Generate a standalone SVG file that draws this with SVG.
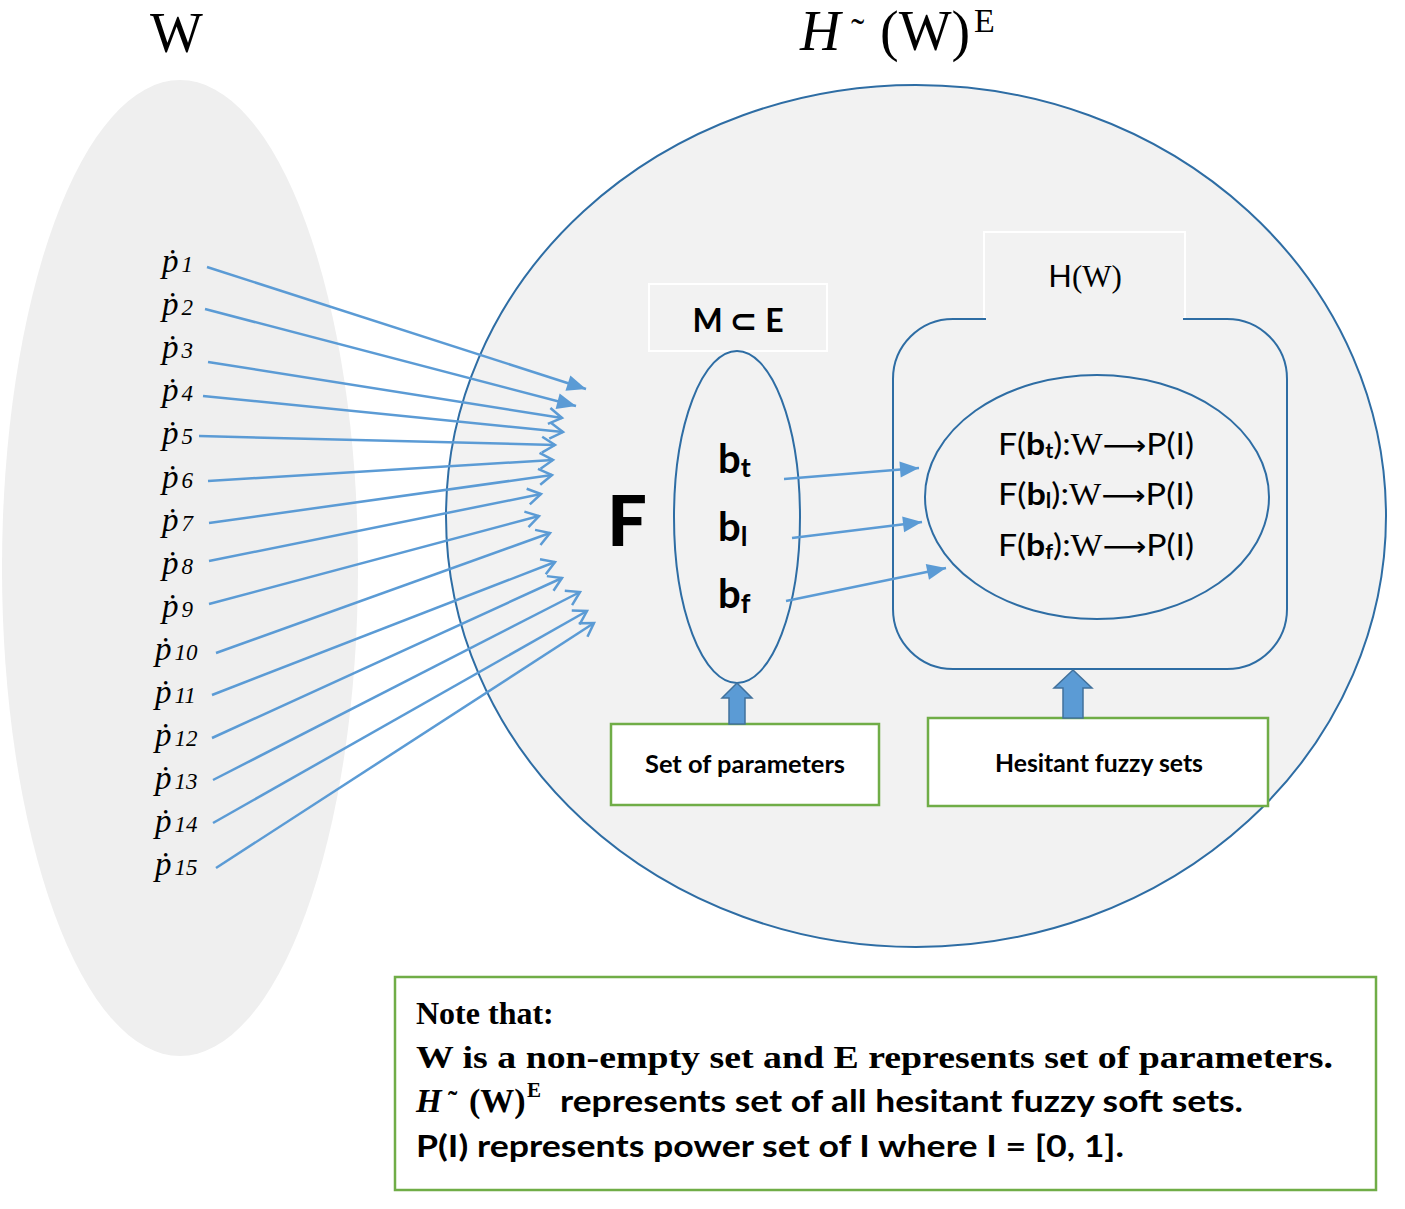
<svg xmlns="http://www.w3.org/2000/svg" width="1405" height="1209" viewBox="0 0 1405 1209">
<style>
.serif{font-family:"Liberation Serif","Times New Roman",serif;fill:#000}
.sans{font-family:Lato,"Open Sans","Liberation Sans",sans-serif;fill:#000}
.p{font-family:"Liberation Serif","DejaVu Serif",serif;font-style:italic;font-size:33px;fill:#000}
.sub{font-size:23px}
.conn{stroke:#5b9bd5;stroke-width:2.5;fill:none}
.blue{stroke:#2e6da4;stroke-width:2;fill:#f2f2f2}
.lbl{fill:#f2f2f2;stroke:#ffffff;stroke-width:2}
.green{fill:#ffffff;stroke:#70ad47;stroke-width:2.5}
.blk{fill:#5b9bd5;stroke:#41719c;stroke-width:1.5}
</style>
<defs>
<marker id="open" viewBox="-16 -10 20 20" refX="0" refY="0" markerWidth="20" markerHeight="20" orient="auto" markerUnits="userSpaceOnUse">
<path d="M-13,-8 L0,0 L-13,8" fill="none" stroke="#5b9bd5" stroke-width="2.5"/>
</marker>
<marker id="fill" viewBox="-20 -10 22 20" refX="0" refY="0" markerWidth="22" markerHeight="20" orient="auto" markerUnits="userSpaceOnUse">
<path d="M-19,-8 L0,0 L-19,8 Z" fill="#5b9bd5"/>
</marker>
</defs>
<rect width="1405" height="1209" fill="#ffffff"/>

<g id="W-set">
<ellipse cx="180" cy="568" rx="178" ry="488" fill="#efefef"/>
<text class="serif" x="150" y="52" font-size="56">W</text>
</g>

<g id="soft-set">
<ellipse class="blue" cx="916" cy="516" rx="470" ry="431"/>
<text class="serif" x="800" y="50" font-size="56" font-style="italic">H</text>
<text class="serif" x="851" y="46" font-size="40">˜</text>
<text class="serif" x="880" y="50" font-size="56">(W)</text>
<text class="serif" x="974" y="32" font-size="34">E</text>
</g>

<g id="labels">
<text class="p" x="162" y="272">ṗ<tspan class="sub" dx="3">1</tspan></text>
<text class="p" x="162" y="315">ṗ<tspan class="sub" dx="3">2</tspan></text>
<text class="p" x="162" y="358">ṗ<tspan class="sub" dx="3">3</tspan></text>
<text class="p" x="162" y="401">ṗ<tspan class="sub" dx="3">4</tspan></text>
<text class="p" x="162" y="444">ṗ<tspan class="sub" dx="3">5</tspan></text>
<text class="p" x="162" y="488">ṗ<tspan class="sub" dx="3">6</tspan></text>
<text class="p" x="162" y="531">ṗ<tspan class="sub" dx="3">7</tspan></text>
<text class="p" x="162" y="574">ṗ<tspan class="sub" dx="3">8</tspan></text>
<text class="p" x="162" y="617">ṗ<tspan class="sub" dx="3">9</tspan></text>
<text class="p" x="155" y="660">ṗ<tspan class="sub" dx="3">10</tspan></text>
<text class="p" x="155" y="703">ṗ<tspan class="sub" dx="3">11</tspan></text>
<text class="p" x="155" y="746">ṗ<tspan class="sub" dx="3">12</tspan></text>
<text class="p" x="155" y="789">ṗ<tspan class="sub" dx="3">13</tspan></text>
<text class="p" x="155" y="832">ṗ<tspan class="sub" dx="3">14</tspan></text>
<text class="p" x="155" y="875">ṗ<tspan class="sub" dx="3">15</tspan></text>
</g>

<g id="F-label">
<text class="sans" x="627" y="546" font-size="70" font-weight="900" text-anchor="middle">F</text>
</g>

<g id="M-box">
<rect class="lbl" x="649" y="284" width="178" height="67"/>
<text class="sans" x="738" y="332" font-size="32" font-weight="bold" text-anchor="middle">M ⊂ E</text>
</g>

<g id="M-set">
<ellipse class="blue" cx="737" cy="517" rx="63" ry="166"/>
<text class="sans" x="718" y="473" font-size="40" font-weight="bold">b<tspan font-size="27" dy="4">t</tspan></text>
<text class="sans" x="718" y="541" font-size="40" font-weight="bold">b<tspan font-size="27" dy="5">l</tspan></text>
<text class="sans" x="718" y="608" font-size="40" font-weight="bold">b<tspan font-size="27" dy="5">f</tspan></text>
</g>

<g id="HW-box">
<rect class="lbl" x="984" y="232" width="201" height="86"/>
<rect class="blue" x="893" y="319" width="394" height="350" rx="60" ry="60"/>
<rect x="986" y="312" width="197" height="8" fill="#f2f2f2"/>
<text x="1085" y="287" font-size="31" text-anchor="middle"><tspan class="sans">H</tspan><tspan class="serif">(W)</tspan></text>
</g>

<g id="H-set">
<ellipse class="blue" cx="1097" cy="497" rx="172" ry="122"/>
<text x="998" y="455" font-size="31" textLength="196" lengthAdjust="spacingAndGlyphs"><tspan class="sans">F(</tspan><tspan class="sans" font-weight="bold">b</tspan><tspan class="sans" font-weight="bold" font-size="20" dy="3">t</tspan><tspan class="sans" dy="-3">):</tspan><tspan class="serif">W</tspan><tspan font-family="DejaVu Sans,sans-serif" font-size="28">⟶</tspan><tspan class="sans">P(I)</tspan></text>
<text x="998" y="505" font-size="31" textLength="196" lengthAdjust="spacingAndGlyphs"><tspan class="sans">F(</tspan><tspan class="sans" font-weight="bold">b</tspan><tspan class="sans" font-weight="bold" font-size="20" dy="3">l</tspan><tspan class="sans" dy="-3">):</tspan><tspan class="serif">W</tspan><tspan font-family="DejaVu Sans,sans-serif" font-size="28">⟶</tspan><tspan class="sans">P(I)</tspan></text>
<text x="998" y="556" font-size="31" textLength="196" lengthAdjust="spacingAndGlyphs"><tspan class="sans">F(</tspan><tspan class="sans" font-weight="bold">b</tspan><tspan class="sans" font-weight="bold" font-size="20" dy="3">f</tspan><tspan class="sans" dy="-3">):</tspan><tspan class="serif">W</tspan><tspan font-family="DejaVu Sans,sans-serif" font-size="28">⟶</tspan><tspan class="sans">P(I)</tspan></text>
</g>

<g id="params-box">
<rect class="green" x="611" y="724" width="268" height="81"/>
<text class="sans" x="645" y="773" font-size="24" font-weight="bold" textLength="200" lengthAdjust="spacingAndGlyphs">Set of parameters</text>
</g>

<g id="hesitant-box">
<rect class="green" x="928" y="718" width="340" height="88"/>
<text class="sans" x="995" y="772" font-size="24" font-weight="bold" textLength="208" lengthAdjust="spacingAndGlyphs">Hesitant fuzzy sets</text>
</g>

<g id="note">
<rect class="green" x="395" y="977" width="981" height="213"/>
<text class="serif" x="416" y="1024" font-size="32" font-weight="bold">Note that:</text>
<text class="serif" x="416" y="1068" font-size="32" font-weight="bold" textLength="917" lengthAdjust="spacingAndGlyphs">W is a non-empty set and E represents set of parameters.</text>
<text class="serif" x="416" y="1112" font-size="33" font-weight="bold" font-style="italic">H</text>
<text class="serif" x="448" y="1110" font-size="28" font-weight="bold">˜</text>
<text class="serif" x="469" y="1112" font-size="34" font-weight="bold">(W)</text>
<text class="serif" x="527" y="1097" font-size="21" font-weight="bold">E</text>
<text class="sans" x="560" y="1112" font-size="30" font-weight="bold" textLength="683" lengthAdjust="spacingAndGlyphs">represents set of all hesitant fuzzy soft sets.</text>
<text class="sans" x="416" y="1157" font-size="30" font-weight="bold" textLength="708" lengthAdjust="spacingAndGlyphs">P(I) represents power set of I where I = [0, 1].</text>
</g>

<g id="connectors">
<line class="conn" x1="207" y1="267" x2="586" y2="389" marker-end="url(#fill)"/>
<line class="conn" x1="205" y1="309" x2="576" y2="406" marker-end="url(#fill)"/>
<line class="conn" x1="208" y1="362" x2="562" y2="418" marker-end="url(#open)"/>
<line class="conn" x1="203" y1="396" x2="563" y2="432" marker-end="url(#open)"/>
<line class="conn" x1="199" y1="436" x2="555" y2="445" marker-end="url(#open)"/>
<line class="conn" x1="208" y1="481" x2="553" y2="460" marker-end="url(#open)"/>
<line class="conn" x1="209" y1="523" x2="552" y2="475" marker-end="url(#open)"/>
<line class="conn" x1="209" y1="561" x2="541" y2="494" marker-end="url(#open)"/>
<line class="conn" x1="209" y1="604" x2="539" y2="516" marker-end="url(#open)"/>
<line class="conn" x1="216" y1="653" x2="550" y2="533" marker-end="url(#open)"/>
<line class="conn" x1="212" y1="695" x2="555" y2="562" marker-end="url(#open)"/>
<line class="conn" x1="212" y1="738" x2="562" y2="578" marker-end="url(#open)"/>
<line class="conn" x1="213" y1="780" x2="580" y2="592" marker-end="url(#open)"/>
<line class="conn" x1="213" y1="823" x2="587" y2="611" marker-end="url(#open)"/>
<line class="conn" x1="216" y1="868" x2="594" y2="623" marker-end="url(#open)"/>
<line class="conn" x1="784" y1="479" x2="919" y2="468" marker-end="url(#fill)"/>
<line class="conn" x1="792" y1="538" x2="922" y2="522" marker-end="url(#fill)"/>
<line class="conn" x1="786" y1="601" x2="946" y2="568" marker-end="url(#fill)"/>
<polygon class="blk" points="737,683 752,698 745,698 745,724 729,724 729,698 722,698"/>
<polygon class="blk" points="1073,670 1092,688 1083,688 1083,718 1063,718 1063,688 1054,688"/>
</g>
</svg>
